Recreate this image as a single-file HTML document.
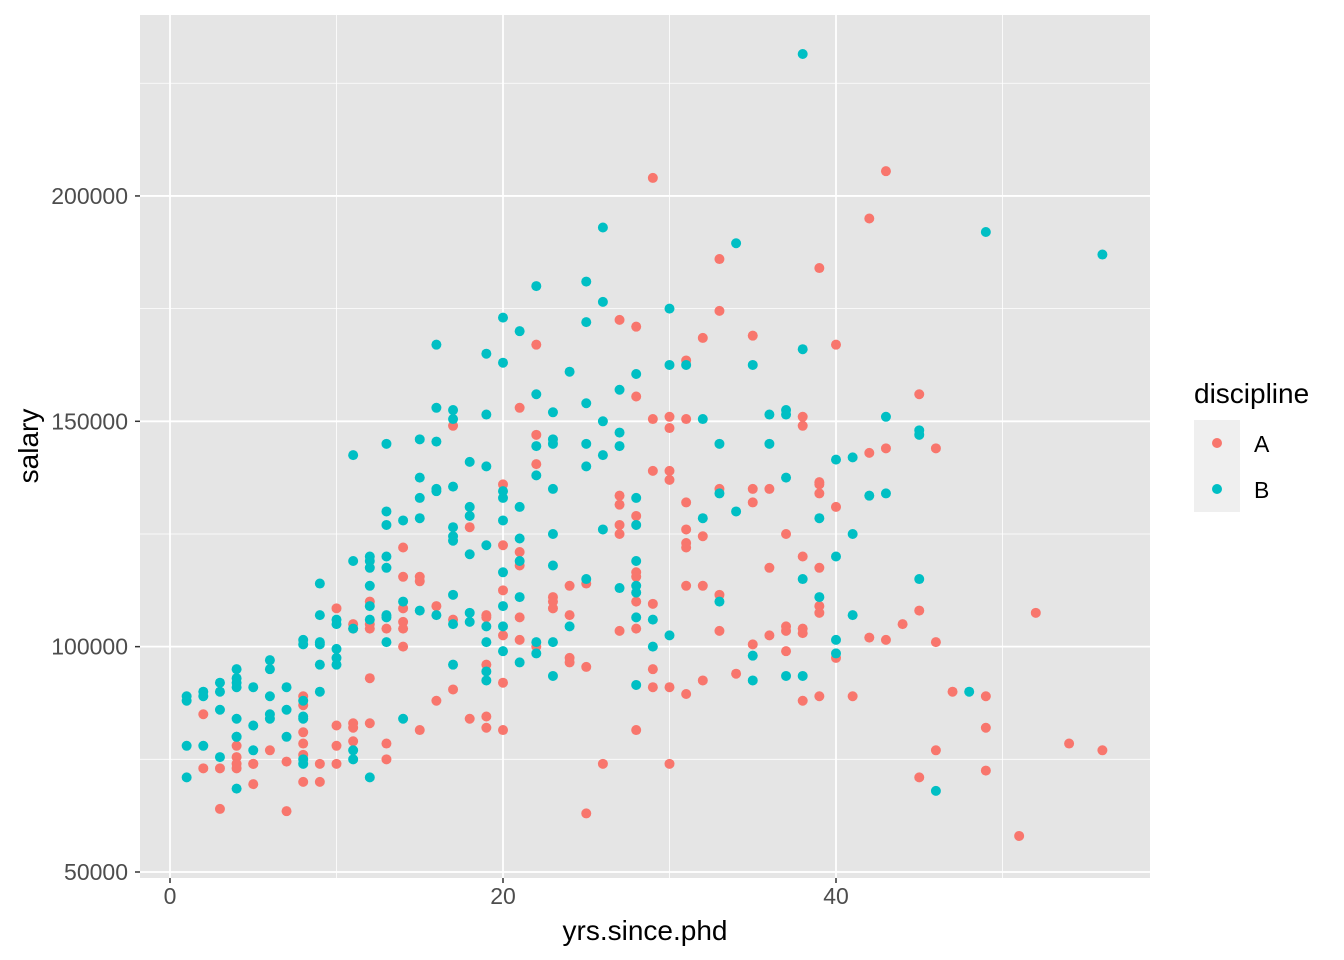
<!DOCTYPE html>
<html><head><meta charset="utf-8"><style>
body{margin:0;background:#fff;}
svg{display:block;font-family:"Liberation Sans",Arial,sans-serif;}
</style></head><body>
<svg id="chart" width="1344" height="960"></svg>
<script>
const xTicks=[0,20,40];
const xMinor=[10,30,50];
const yTicks=[50000,100000,150000,200000];
const yMinor=[75000,125000,175000,225000];
const aData=[[2,85],[2,73],[3,73],[3,64],[4,78],[4,75.5],[4,74],[4,73],[5,74],[5,74],[5,69.5],[6,77],[7,74.5],[7,63.5],
[8,89],[8,87],[8,81],[8,78.5],[8,76],[8,70],[9,74],[9,70],[10,108.5],[10,82.5],[10,78],[10,74],[11,105],[11,104],[11,83],[11,82],[11,79],
[12,110],[12,105],[12,104],[12,93],[12,83],[13,104],[13,78.5],[13,75],[14,122],[14,115.5],[14,108.5],[14,105.5],[14,104],[14,100],
[15,115.5],[15,114.5],[15,81.5],[16,109],[16,88],[17,149],[17,106],[17,90.5],[18,126.5],[18,84],[19,107],[19,106.5],[19,96],[19,84.5],[19,82],
[20,136],[20,122.5],[20,112.5],[20,102.5],[20,92],[20,81.5],[21,153],[21,121],[21,118],[21,106.5],[21,101.5],[22,167],[22,147],[22,140.5],[22,100],
[23,111],[23,110],[23,108.5],[24,113.5],[24,107],[24,97.5],[24,96.5],[25,114],[25,95.5],[25,63],[26,74],
[27,172.5],[27,133.5],[27,131.5],[27,127],[27,125],[27,103.5],[28,171],[28,155.5],[28,129],[28,116.5],[28,115.5],[28,110],[28,104],[28,81.5],
[29,204],[29,150.5],[29,139],[29,109.5],[29,95],[29,91],[30,151],[30,148.5],[30,139],[30,137],[30,91],[30,74],
[31,163.5],[31,150.5],[31,132],[31,126],[31,123],[31,122],[31,113.5],[31,89.5],[32,168.5],[32,124.5],[32,113.5],[32,92.5],
[33,186],[33,174.5],[33,135],[33,111.5],[33,103.5],[34,94],[35,169],[35,135],[35,132],[35,100.5],[36,135],[36,117.5],[36,102.5],
[37,125],[37,104.5],[37,103.5],[37,99],[38,151],[38,149],[38,120],[38,104],[38,103],[38,88],
[39,184],[39,136.5],[39,136],[39,134],[39,117.5],[39,109],[39,107.5],[39,89],[40,167],[40,131],[40,97.5],[41,89],
[42,195],[42,143],[42,102],[43,205.5],[43,144],[43,101.5],[44,105],[45,156],[45,108],[45,71],[46,144],[46,101],[46,77],[47,90],
[49,89],[49,82],[49,72.5],[51,58],[52,107.5],[54,78.5],[56,77]];
const bData=[[1,89],[1,88],[1,78],[1,71],[2,90],[2,89],[2,78],[3,92],[3,90],[3,86],[3,75.5],
[4,95],[4,93],[4,92],[4,91],[4,84],[4,80],[4,80],[4,68.5],[5,91],[5,82.5],[5,77],[6,97],[6,95],[6,89],[6,85],[6,84],[7,91],[7,86],[7,80],
[8,101.5],[8,100.5],[8,88],[8,84.5],[8,84],[8,74],[8,75],[9,114],[9,107],[9,101],[9,100.5],[9,96],[9,90],[10,106],[10,105],[10,99.5],[10,97.5],[10,96],
[11,142.5],[11,119],[11,104],[11,77],[11,75],[12,120],[12,119],[12,117.5],[12,113.5],[12,109],[12,106],[12,71],
[13,145],[13,130],[13,127],[13,120],[13,117.5],[13,107],[13,106.5],[13,101],[14,128],[14,110],[14,84],[15,146],[15,137.5],[15,133],[15,128.5],[15,108],
[16,167],[16,153],[16,145.5],[16,135],[16,134.5],[16,107],[17,152.5],[17,150.5],[17,135.5],[17,126.5],[17,124.5],[17,123.5],[17,111.5],[17,105],[17,96],
[18,141],[18,131],[18,129],[18,120.5],[18,107.5],[18,105.5],[19,165],[19,151.5],[19,140],[19,122.5],[19,104.5],[19,101],[19,94.5],[19,92.5],
[20,173],[20,163],[20,134.5],[20,133],[20,128],[20,116.5],[20,109],[20,104.5],[20,99],[21,170],[21,131],[21,124],[21,119],[21,111],[21,96.5],
[22,180],[22,156],[22,144.5],[22,138],[22,101],[22,98.5],[23,152],[23,146],[23,145],[23,135],[23,125],[23,118],[23,101],[23,93.5],[24,161],[24,104.5],
[25,181],[25,172],[25,154],[25,145],[25,140],[25,115],[26,193],[26,176.5],[26,150],[26,142.5],[26,126],[27,157],[27,147.5],[27,144.5],[27,113],
[28,160.5],[28,133],[28,127],[28,119],[28,113.5],[28,112],[28,106.5],[28,91.5],[29,106],[29,100],[30,175],[30,162.5],[30,102.5],[31,162.5],
[32,150.5],[32,128.5],[33,145],[33,134],[33,110],[34,189.5],[34,130],[35,162.5],[35,98],[35,92.5],[36,151.5],[36,145],
[37,152.5],[37,151.5],[37,137.5],[37,93.5],[38,231.5],[38,166],[38,115],[38,93.5],[39,128.5],[39,111],[40,141.5],[40,120],[40,101.5],[40,98.5],
[41,142],[41,125],[41,107],[42,133.5],[43,151],[43,134],[45,148],[45,147],[45,115],[46,68],[48,90],[49,192],[56,187]];
const NS="http://www.w3.org/2000/svg";
const svg=document.getElementById('chart');
const L=140,R=1150,T=15,B=878;
function xs(v){return 170+v*16.65;}
function ys(s){return 872-(s-50000)*0.004507;}
function mk(tag,attrs,parent){const e=document.createElementNS(NS,tag);for(const k in attrs)e.setAttribute(k,attrs[k]);(parent||svg).appendChild(e);return e;}
const panel=mk('rect',{x:L,y:T,width:R-L,height:B-T,fill:'#E5E5E5'});


xMinor.forEach(v=>{const l=mk('line',{x1:xs(v),x2:xs(v),y1:T,y2:B,stroke:'#fff','stroke-width':0.8});

});
yMinor.forEach(v=>{const l=mk('line',{x1:L,x2:R,y1:ys(v),y2:ys(v),stroke:'#fff','stroke-width':0.8});

});
xTicks.forEach(v=>{const l=mk('line',{x1:xs(v),x2:xs(v),y1:T,y2:B,stroke:'#fff','stroke-width':1.8});


const t=mk('line',{x1:xs(v),x2:xs(v),y1:B,y2:B+5,stroke:'#333','stroke-width':1.5});


const tx=mk('text',{x:xs(v),y:B+26,'text-anchor':'middle','font-size':23,fill:'#4D4D4D'});tx.textContent=v;

});
yTicks.forEach(v=>{const l=mk('line',{x1:L,x2:R,y1:ys(v),y2:ys(v),stroke:'#fff','stroke-width':1.8});


const t=mk('line',{x1:L-5,x2:L,y1:ys(v),y2:ys(v),stroke:'#333','stroke-width':1.5});


const tx=mk('text',{x:L-12,y:ys(v)+8,'text-anchor':'end','font-size':23,fill:'#4D4D4D'});tx.textContent=v;

});
aData.forEach(d=>{const c=mk('circle',{cx:xs(d[0]),cy:ys(d[1]*1000),r:5,fill:'#F8766D'});

});
bData.forEach(d=>{const c=mk('circle',{cx:xs(d[0]),cy:ys(d[1]*1000),r:5,fill:'#00BFC4'});

});
</script>
<svg style="position:absolute;left:0;top:0" width="1344" height="960">
<text x="645" y="940" text-anchor="middle" font-size="28" font-family="Liberation Sans, sans-serif">yrs.since.phd</text>
<text transform="translate(38,446) rotate(-90)" text-anchor="middle" font-size="28" font-family="Liberation Sans, sans-serif">salary</text>
<text x="1194" y="403" font-size="28" font-family="Liberation Sans, sans-serif">discipline</text>
<rect x="1194" y="420" width="46" height="92" fill="#EFEFEF"/>
<circle cx="1217" cy="443" r="5" fill="#F8766D"/>
<circle cx="1217" cy="489" r="5" fill="#00BFC4"/>
<text x="1254" y="452" font-size="23" font-family="Liberation Sans, sans-serif">A</text>
<text x="1254" y="498" font-size="23" font-family="Liberation Sans, sans-serif">B</text>
</svg>
</body></html>
